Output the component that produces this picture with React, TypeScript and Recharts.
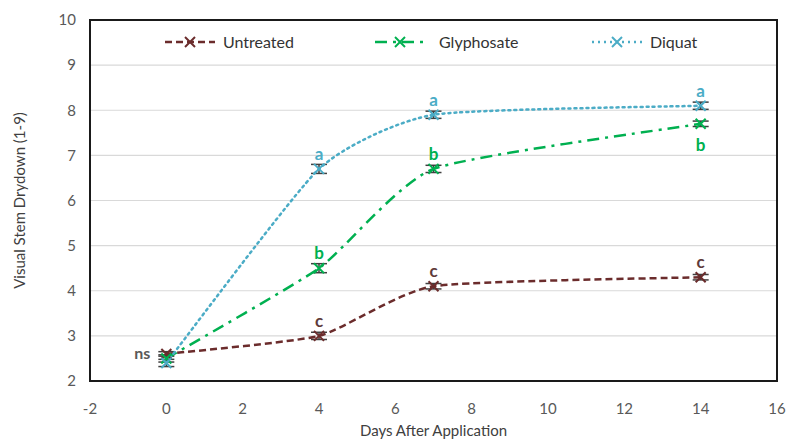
import React from 'react';
import {
  LineChart,
  Line,
  XAxis,
  YAxis,
  CartesianGrid,
  ErrorBar,
  LabelList,
  ReferenceArea,
} from 'recharts';

// days after application
const days = [0, 4, 7, 14];

// stem drydown ratings (1-9)
const untreated = [2.6, 3.0, 4.1, 4.3];
const glyphosate = [2.5, 4.5, 6.7, 7.7];
const diquat = [2.4, 6.7, 7.9, 8.1];

// standard error
const untreatedErr = [0.05, 0.08, 0.06, 0.06];
const glyphosateErr = [0.08, 0.1, 0.08, 0.06];
const diquatErr = [0.08, 0.1, 0.08, 0.08];

// mean separation letters
const untreatedLetters = ['ns', 'c', 'c', 'c'];
const glyphosateLetters = ['', 'b', 'b', 'b'];
const diquatLetters = ['', 'a', 'a', 'a'];

const xTicks = [-2, 0, 2, 4, 6, 8, 10, 12, 14, 16];
const yTicks = [2, 3, 4, 5, 6, 7, 8, 9, 10];

const data = days.map((d, i) => ({
  day: d,
  untreated: untreated[i],
  untreatedErr: untreatedErr[i],
  glyphosate: glyphosate[i],
  glyphosateErr: glyphosateErr[i],
  diquat: diquat[i],
  diquatErr: diquatErr[i],
}));

const FONT = 'Lato, "Open Sans", sans-serif';

const C_UNT = '#6B2C2C';
const C_UNT_TXT = '#5E3A3A';
const C_GLY = '#00B050';
const C_DIQ = '#4BACC6';

const SERIES = [
  { key: 'untreated', name: 'Untreated', color: C_UNT, dash: '7 4', left: 163 },
  { key: 'glyphosate', name: 'Glyphosate', color: C_GLY, dash: '12 6 3 6', left: 373 },
  { key: 'diquat', name: 'Diquat', color: C_DIQ, dash: '2 4', left: 590 },
];

// Excel-like smoothed line, gentle Catmull-Rom through the points
const SMOOTH = 1 / 11;
function excelSmooth(ctx: any) {
  let pts: [number, number][] = [];
  return {
    areaStart() {},
    areaEnd() {},
    lineStart() {
      pts = [];
    },
    point(x: number, y: number) {
      pts.push([+x, +y]);
    },
    lineEnd() {
      if (!pts.length) return;
      ctx.moveTo(pts[0][0], pts[0][1]);
      for (let i = 0; i < pts.length - 1; i++) {
        const p0 = pts[Math.max(0, i - 1)];
        const p1 = pts[i];
        const p2 = pts[i + 1];
        const p3 = pts[Math.min(pts.length - 1, i + 2)];
        ctx.bezierCurveTo(
          p1[0] + (p2[0] - p0[0]) * SMOOTH,
          p1[1] + (p2[1] - p0[1]) * SMOOTH,
          p2[0] - (p3[0] - p1[0]) * SMOOTH,
          p2[1] - (p3[1] - p1[1]) * SMOOTH,
          p2[0],
          p2[1],
        );
      }
    },
  };
}

const xMark = (color: string) => (props: any) => {
  const { cx, cy, index } = props;
  if (cx == null || cy == null) return <g key={index} />;
  const s = 5;
  return (
    <g key={`m-${index}`}>
      <line x1={cx - s} y1={cy - s} x2={cx + s} y2={cy + s} stroke={color} strokeWidth={2} />
      <line x1={cx - s} y1={cy + s} x2={cx + s} y2={cy - s} stroke={color} strokeWidth={2} />
    </g>
  );
};

const letterLabel = (letters: string[], color: string, below: boolean[] = []) => (props: any) => {
  const { x, y, index } = props;
  const txt = letters[index];
  if (!txt) return null;
  if (txt === 'ns') {
    return (
      <text x={x - 16} y={y + 5} textAnchor="end" fill="#595959" fontSize={16} fontWeight={700} fontFamily={FONT}>
        {txt}
      </text>
    );
  }
  return (
    <text
      x={x}
      y={below[index] ? y + 27 : y - 9}
      textAnchor="middle"
      fill={color}
      fontSize={17}
      fontWeight={700}
      fontFamily={FONT}
    >
      {txt}
    </text>
  );
};

const LegendBox = () => (
  <>
    {SERIES.map((s) => (
      <div
        key={s.key}
        style={{
          position: 'absolute',
          top: 32,
          left: s.left,
          display: 'flex',
          alignItems: 'center',
          fontFamily: FONT,
          fontSize: 16,
          color: '#333',
        }}
      >
        <svg width={54} height={18} style={{ marginRight: s.key === 'glyphosate' ? 12 : 6 }}>
          <line x1={2} y1={9} x2={52} y2={9} stroke={s.color} strokeWidth={2.5} strokeDasharray={s.dash} />
          <line x1={22} y1={4} x2={32} y2={14} stroke={s.color} strokeWidth={2} />
          <line x1={22} y1={14} x2={32} y2={4} stroke={s.color} strokeWidth={2} />
        </svg>
        <span>{s.name}</span>
      </div>
    ))}
  </>
);

export default function App() {
  return (
    <div style={{ position: 'absolute', left: 0, top: 0, width: 802, height: 439, background: '#fff' }}>
      <LineChart width={802} height={439} data={data} margin={{ top: 20, right: 25, bottom: 0, left: 0 }}>
        <CartesianGrid horizontal vertical={false} stroke="#D9D9D9" strokeWidth={1.2} />
        <XAxis
          type="number"
          dataKey="day"
          domain={[-2, 16]}
          ticks={xTicks}
          axisLine={false}
          tickLine={false}
          height={58}
          tick={{ fill: '#595959', fontSize: 15, fontFamily: FONT, dy: 14 }}
          label={{
            value: 'Days After Application',
            position: 'insideBottom',
            offset: 3,
            style: { fill: '#404040', fontSize: 15, fontFamily: FONT },
          }}
        />
        <YAxis
          type="number"
          domain={[2, 10]}
          ticks={yTicks}
          axisLine={false}
          tickLine={false}
          width={90}
          tick={{ fill: '#595959', fontSize: 15, fontFamily: FONT, dx: -6 }}
          label={{
            value: 'Visual Stem Drydown (1-9)',
            angle: -90,
            position: 'insideLeft',
            offset: 20,
            style: { fill: '#404040', fontSize: 15, fontFamily: FONT, textAnchor: 'middle' },
          }}
        />
        <ReferenceArea x1={-2} x2={16} y1={2} y2={10} fill="none" stroke="#1a1a1a" strokeWidth={2} />
        <Line
          name="Untreated"
          type={excelSmooth as any}
          dataKey="untreated"
          stroke={C_UNT}
          strokeWidth={2.5}
          strokeDasharray="7 4"
          dot={xMark(C_UNT)}
          isAnimationActive={false}
        >
          <ErrorBar dataKey="untreatedErr" direction="y" width={8} stroke="#404040" strokeWidth={1.5} />
          <LabelList dataKey="untreated" content={letterLabel(untreatedLetters, C_UNT_TXT)} />
        </Line>
        <Line
          name="Glyphosate"
          type={excelSmooth as any}
          dataKey="glyphosate"
          stroke={C_GLY}
          strokeWidth={2.5}
          strokeDasharray="12 6 3 6"
          dot={xMark(C_GLY)}
          isAnimationActive={false}
        >
          <ErrorBar dataKey="glyphosateErr" direction="y" width={8} stroke="#404040" strokeWidth={1.5} />
          <LabelList
            dataKey="glyphosate"
            content={letterLabel(glyphosateLetters, C_GLY, [false, false, false, true])}
          />
        </Line>
        <Line
          name="Diquat"
          type={excelSmooth as any}
          dataKey="diquat"
          stroke={C_DIQ}
          strokeWidth={2.5}
          strokeDasharray="2 4"
          strokeLinecap="round"
          dot={xMark(C_DIQ)}
          isAnimationActive={false}
        >
          <ErrorBar dataKey="diquatErr" direction="y" width={8} stroke="#404040" strokeWidth={1.5} />
          <LabelList dataKey="diquat" content={letterLabel(diquatLetters, C_DIQ)} />
        </Line>
      </LineChart>
      <LegendBox />
    </div>
  );
}
